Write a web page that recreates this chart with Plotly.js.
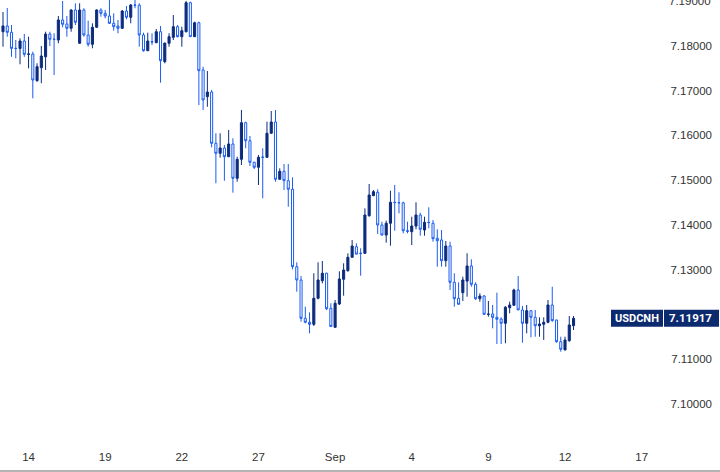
<!DOCTYPE html>
<html>
<head>
<meta charset="utf-8">
<script src="https://cdn.plot.ly/plotly-3.0.1.min.js"></script>
<style>html,body{margin:0;padding:0;background:#fff;}#chart{width:720px;height:472px;}</style>
</head>
<body>
<div id="chart"></div>
<script>
const symbol = "USDCNH";
const opens = [7.18314,7.18442,7.18301,7.17942,7.17940,7.18107,7.17810,7.17815,7.17221,7.17511,
7.17754,7.18263,7.18145,7.18129,7.18576,7.18486,7.18390,7.18799,7.18056,7.18799,
7.18241,7.18033,7.18413,7.18799,7.18725,7.18665,7.18502,7.18442,7.18390,7.18776,
7.18636,7.18910,7.18905,7.18241,7.17890,7.18091,7.18069,7.18314,7.17645,7.18056,
7.18189,7.18426,7.18203,7.18314,7.18962,7.18203,7.18515,7.17460,7.16864,7.16968,
7.15823,7.15600,7.15718,7.15524,7.15808,7.15042,7.15466,7.16283,7.15881,7.15399,
7.15288,7.15515,7.15510,7.16047,7.16299,7.15020,7.15198,7.14989,7.14797,7.13069,
7.12772,7.11917,7.11828,7.11783,7.12364,7.12756,7.12922,7.12140,7.11716,7.12236,
7.12788,7.12980,7.13279,7.13515,7.13368,7.13368,7.14207,7.14654,7.14730,7.14000,
7.13775,7.14038,7.14506,7.14500,7.14495,7.13872,7.13850,7.13977,7.14223,7.13888,
7.14060,7.14038,7.13703,7.13665,7.13203,7.13531,7.12721,7.12364,7.12489,7.12748,
7.13085,7.12676,7.12355,7.12415,7.12006,7.12013,7.11939,7.11901,7.11806,7.12154,
7.12207,7.12549,7.12102,7.11806,7.12087,7.11939,7.11750,7.11783,7.11828,7.12214,
7.11879,7.11395,7.11210,7.11417,7.11752];
const highs = [7.18754,7.18843,7.18464,7.18129,7.18167,7.18263,7.18203,7.17868,7.17609,7.17995,
7.18314,7.18314,7.18279,7.18665,7.19000,7.18665,7.18814,7.18948,7.18948,7.18837,
7.18560,7.18502,7.18814,7.18837,7.18799,7.19022,7.18725,7.18576,7.18799,7.18888,
7.18933,7.19022,7.18948,7.18292,7.18292,7.18279,7.18375,7.18442,7.18069,7.18279,
7.18687,7.18464,7.18426,7.19000,7.18984,7.18538,7.18538,7.17533,7.17437,7.17013,
7.16047,7.16047,7.15785,7.16120,7.15935,7.15524,7.16567,7.16306,7.15986,7.15413,
7.15562,7.15712,7.16306,7.16544,7.16567,7.15265,7.15361,7.15361,7.15064,7.13167,
7.12861,7.12176,7.12051,7.12922,7.13167,7.13196,7.12935,7.12252,7.12326,7.12966,
7.13145,7.13368,7.13665,7.13591,7.13480,7.14372,7.14915,7.14781,7.14797,7.14073,
7.14096,7.14765,7.14893,7.14730,7.14520,7.14073,7.14185,7.14506,7.14274,7.14185,
7.14395,7.14111,7.13904,7.13888,7.13643,7.13627,7.12922,7.12721,7.12846,7.13368,
7.13234,7.12721,7.12475,7.12437,7.12303,7.12214,7.12489,7.11939,7.12192,7.12288,
7.12578,7.12861,7.12192,7.12214,7.12102,7.12102,7.11939,7.11939,7.12326,7.12622,
7.11885,7.11506,7.11506,7.11968,7.11968];
const lows = [7.17980,7.18203,7.17754,7.17721,7.17587,7.17754,7.17497,7.16828,7.17198,7.17163,
7.17460,7.17995,7.17348,7.18056,7.18413,7.18203,7.18314,7.18464,7.18040,7.18203,
7.17980,7.17944,7.18400,7.18649,7.18614,7.18486,7.18337,7.18279,7.18375,7.18591,
7.18502,7.18837,7.17980,7.17868,7.17885,7.18018,7.18060,7.17176,7.17609,7.17980,
7.18129,7.18189,7.17980,7.18300,7.18200,7.18200,7.16678,7.16567,7.16640,7.15734,
7.14931,7.15502,7.14989,7.15520,7.14721,7.14966,7.15339,7.15712,7.15317,7.15250,
7.14893,7.14596,7.15505,7.16040,7.14966,7.15015,7.14781,7.14408,7.13011,7.12511,
7.11841,7.11806,7.11582,7.11745,7.12341,7.12698,7.12102,7.11730,7.11710,7.12214,
7.12422,7.12957,7.13270,7.13346,7.12868,7.13352,7.14185,7.14650,7.13799,7.13770,
7.13605,7.13538,7.13872,7.14261,7.13814,7.13814,7.13553,7.13904,7.13761,7.13761,
7.13926,7.13627,7.13069,7.13069,7.13069,7.12549,7.12176,7.12221,7.12303,7.12399,
7.12622,7.12326,7.12288,7.12006,7.11953,7.11694,7.11343,7.11343,7.11359,7.12029,
7.12200,7.12102,7.11372,7.11582,7.11493,7.11506,7.11506,7.11433,7.11806,7.11841,
7.11372,7.11172,7.11205,7.11395,7.11656];
const closes = [7.18442,7.18301,7.17942,7.17940,7.18107,7.17810,7.17815,7.17236,7.17533,7.17772,
7.18263,7.18145,7.18145,7.18576,7.18480,7.18390,7.18799,7.18524,7.18799,7.18241,
7.18033,7.18413,7.18799,7.18725,7.18665,7.18502,7.18426,7.18390,7.18776,7.18636,
7.18910,7.18905,7.18241,7.17890,7.18107,7.18085,7.18314,7.17667,7.18060,7.18203,
7.18426,7.18203,7.18337,7.18962,7.18203,7.18515,7.17444,7.16790,7.16968,7.15823,
7.15600,7.15718,7.15524,7.15808,7.15042,7.15466,7.16283,7.15881,7.15399,7.15288,
7.15511,7.15510,7.16047,7.16299,7.15020,7.15198,7.14989,7.14797,7.13069,7.12772,
7.11917,7.11828,7.11783,7.12364,7.12772,7.12922,7.12131,7.11735,7.12252,7.12794,
7.12995,7.13279,7.13531,7.13350,7.13365,7.14223,7.14669,7.14743,7.14000,7.13775,
7.14038,7.14506,7.14500,7.14495,7.13872,7.13859,7.13977,7.14223,7.13904,7.14060,
7.14055,7.13694,7.13649,7.13203,7.13531,7.12721,7.12355,7.12230,7.12772,7.13085,
7.12676,7.12355,7.12415,7.12006,7.12010,7.11939,7.11895,7.11806,7.12163,7.12214,
7.12549,7.12105,7.11806,7.12087,7.11939,7.11750,7.11790,7.11828,7.12214,7.11864,
7.11395,7.11225,7.11433,7.11768,7.11917];
const xTickIdx = [6,24,42,60,78,96,114,132,150];
const xTickText = ["14","19","22","27","Sep","4","9","12","17"];
const yTickVals = [7.10,7.11,7.13,7.14,7.15,7.16,7.17,7.18];
const yTopTick = 7.19;

const idx = opens.map((_, i) => i);
const last = closes[closes.length - 1];
const pxPerPrice = 4480;
const halfBox = 8.5 / pxPerPrice;
const tickFont = {family: 'Liberation Sans, Arial, sans-serif', size: 11.5, color: '#333333'};

const trace = {
  type: 'candlestick',
  x: idx, open: opens, high: highs, low: lows, close: closes,
  increasing: {line: {color: '#0c2b7d', width: 1}, fillcolor: '#0c2b7d'},
  decreasing: {line: {color: '#1a5cf2', width: 1}, fillcolor: '#ffffff'},
  whiskerwidth: 0,
  hoverinfo: 'none'
};

const layout = {
  width: 720, height: 472,
  margin: {l: 0, r: 0, t: 0, b: 32},
  paper_bgcolor: '#ffffff', plot_bgcolor: '#ffffff',
  showlegend: false,
  font: tickFont,
  xaxis: {
    range: [-0.705, 168.4],
    rangeslider: {visible: false},
    showgrid: false, zeroline: false, showline: false,
    tickmode: 'array', tickvals: xTickIdx, ticktext: xTickText,
    ticks: '', ticklabelstandoff: 8,
    tickfont: tickFont
  },
  yaxis: {
    side: 'right',
    range: [7.19022 - 440 / pxPerPrice, 7.19022],
    showgrid: false, zeroline: false, showline: false,
    tickmode: 'array', tickvals: yTickVals,
    tickformat: '.5f', ticks: '',
    ticklabelposition: 'inside',
    ticklabelstandoff: 5,
    tickfont: tickFont
  },
  shapes: [
    {type: 'line', xref: 'paper', yref: 'paper', x0: 0, x1: 1, y0: -31 / 440, y1: -31 / 440,
     line: {color: '#9a9a9a', width: 1.5}},
    {type: 'rect', xref: 'paper', yref: 'y', x0: 611 / 720, x1: 663 / 720,
     y0: last - halfBox, y1: last + halfBox, fillcolor: '#0c2a6e', line: {width: 0}, layer: 'above'},
    {type: 'rect', xref: 'paper', yref: 'y', x0: 664 / 720, x1: 719 / 720,
     y0: last - halfBox, y1: last + halfBox, fillcolor: '#0c2a6e', line: {width: 0}, layer: 'above'}
  ],
  annotations: [
    {xref: 'paper', yref: 'y', x: 713 / 720, y: yTopTick, xanchor: 'right', yanchor: 'middle',
     text: yTopTick.toFixed(5), showarrow: false, font: tickFont},
    {xref: 'paper', yref: 'y', x: 637 / 720, y: last, xanchor: 'center', yanchor: 'middle',
     text: '<b>' + symbol + '</b>', showarrow: false,
     font: {family: 'Roboto, Arial, sans-serif', color: '#ffffff', size: 11}},
    {xref: 'paper', yref: 'y', x: 714 / 720, y: last, xanchor: 'right', yanchor: 'middle',
     text: '<b>' + last.toFixed(5) + '</b>', showarrow: false,
     font: {family: 'Roboto, Arial, sans-serif', color: '#ffffff', size: 11.5}}
  ]
};

Plotly.newPlot('chart', [trace], layout, {displayModeBar: false, staticPlot: true});
</script>
</body>
</html>
